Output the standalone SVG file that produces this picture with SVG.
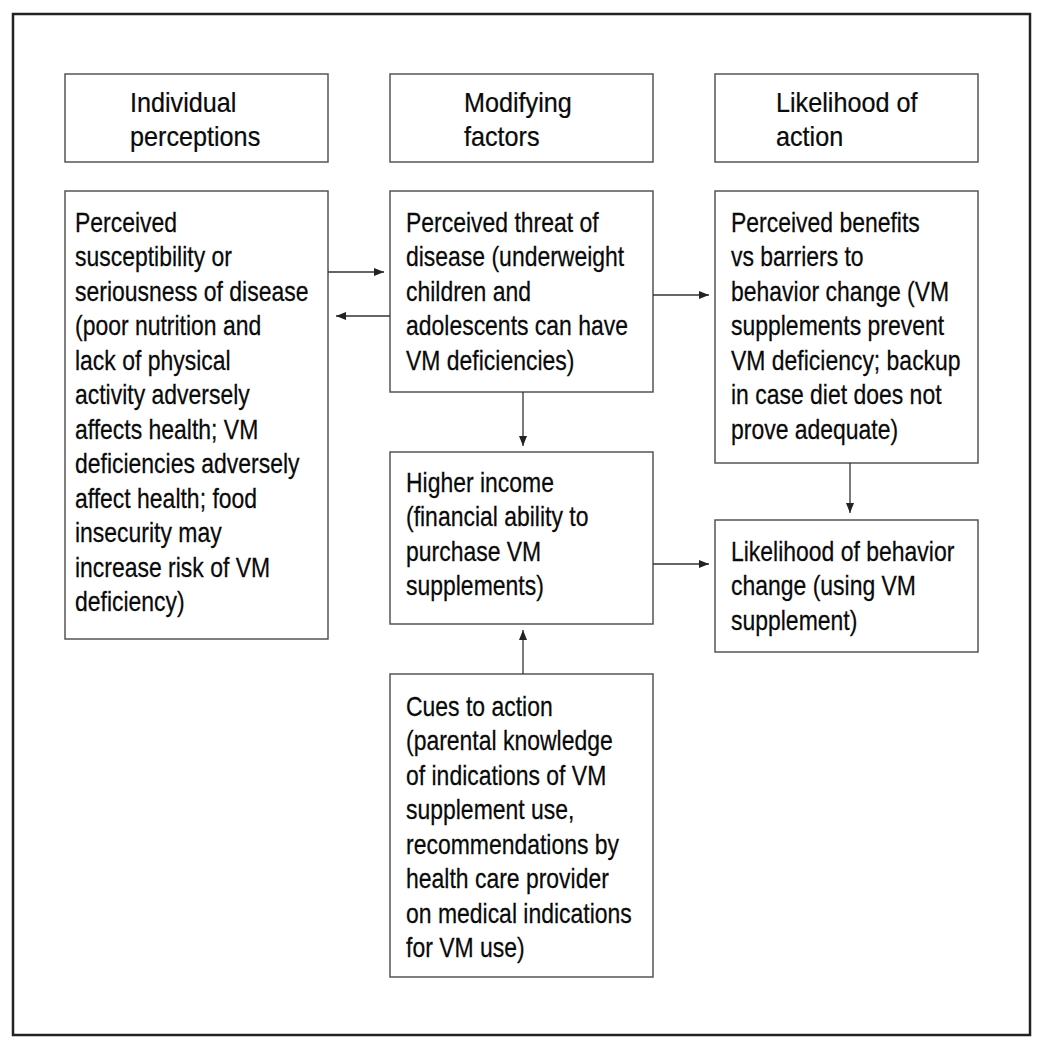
<svg xmlns="http://www.w3.org/2000/svg" width="1044" height="1050" viewBox="0 0 1044 1050">
<style>
.box{fill:#fff;stroke:#555;stroke-width:1.5}
.frame{fill:#fff;stroke:#222;stroke-width:2.5}
.t{font-family:"Liberation Sans",Arial,sans-serif;font-size:28px;fill:#0a0a0a;stroke:#0a0a0a;stroke-width:0.25}
.c{stroke:#333;stroke-width:1.3;fill:none;marker-end:url(#ah)}
</style>
<defs>
<marker id="ah" markerUnits="userSpaceOnUse" markerWidth="11" markerHeight="9" refX="10" refY="4" orient="auto">
<path d="M0,0 L10,4 L0,8 z" fill="#222"/>
</marker>
</defs>
<rect class="frame" x="13" y="14" width="1017" height="1021"/>

<g id="h1"><rect class="box" x="65" y="74" width="263" height="88"/>
<text class="t" transform="translate(130,0) scale(0.9,1)"><tspan x="0" y="112">Individual</tspan><tspan x="0" y="146">perceptions</tspan></text></g>
<g id="h2"><rect class="box" x="390" y="74" width="263" height="88"/>
<text class="t" transform="translate(464,0) scale(0.9,1)"><tspan x="0" y="112">Modifying</tspan><tspan x="0" y="146">factors</tspan></text></g>
<g id="h3"><rect class="box" x="715" y="74" width="263" height="88"/>
<text class="t" transform="translate(776,0) scale(0.9,1)"><tspan x="0" y="112">Likelihood of</tspan><tspan x="0" y="146">action</tspan></text></g>

<g id="susceptibility"><rect class="box" x="65" y="191" width="263" height="448"/>
<text class="t" transform="translate(75,0) scale(0.82,1)">
<tspan x="0" y="232">Perceived</tspan>
<tspan x="0" y="266.5">susceptibility or</tspan>
<tspan x="0" y="301">seriousness of disease</tspan>
<tspan x="0" y="335.5">(poor nutrition and</tspan>
<tspan x="0" y="370">lack of physical</tspan>
<tspan x="0" y="404.5">activity adversely</tspan>
<tspan x="0" y="439">affects health; VM</tspan>
<tspan x="0" y="473.5">deficiencies adversely</tspan>
<tspan x="0" y="508">affect health; food</tspan>
<tspan x="0" y="542.5">insecurity may</tspan>
<tspan x="0" y="577">increase risk of VM</tspan>
<tspan x="0" y="611.5">deficiency)</tspan>
</text></g>

<g id="threat"><rect class="box" x="390" y="191" width="263" height="201"/>
<text class="t" transform="translate(406,0) scale(0.82,1)">
<tspan x="0" y="232">Perceived threat of</tspan>
<tspan x="0" y="266.5">disease (underweight</tspan>
<tspan x="0" y="301">children and</tspan>
<tspan x="0" y="335.5">adolescents can have</tspan>
<tspan x="0" y="370">VM deficiencies)</tspan>
</text></g>

<g id="benefits"><rect class="box" x="715" y="191" width="263" height="272"/>
<text class="t" transform="translate(731,0) scale(0.82,1)">
<tspan x="0" y="232">Perceived benefits</tspan>
<tspan x="0" y="266.5">vs barriers to</tspan>
<tspan x="0" y="301">behavior change (VM</tspan>
<tspan x="0" y="335.5">supplements prevent</tspan>
<tspan x="0" y="370">VM deficiency; backup</tspan>
<tspan x="0" y="404.5">in case diet does not</tspan>
<tspan x="0" y="439">prove adequate)</tspan>
</text></g>

<g id="income"><rect class="box" x="390" y="452" width="263" height="172"/>
<text class="t" transform="translate(406,0) scale(0.82,1)">
<tspan x="0" y="492">Higher income</tspan>
<tspan x="0" y="526.5">(financial ability to</tspan>
<tspan x="0" y="561">purchase VM</tspan>
<tspan x="0" y="595.5">supplements)</tspan>
</text></g>

<g id="likelihood"><rect class="box" x="715" y="520" width="263" height="132"/>
<text class="t" transform="translate(731,0) scale(0.82,1)">
<tspan x="0" y="561">Likelihood of behavior</tspan>
<tspan x="0" y="595.5">change (using VM</tspan>
<tspan x="0" y="630">supplement)</tspan>
</text></g>

<g id="cues"><rect class="box" x="390" y="674" width="263" height="303"/>
<text class="t" transform="translate(406,0) scale(0.82,1)">
<tspan x="0" y="716">Cues to action</tspan>
<tspan x="0" y="750.5">(parental knowledge</tspan>
<tspan x="0" y="785">of indications of VM</tspan>
<tspan x="0" y="819.5">supplement use,</tspan>
<tspan x="0" y="854">recommendations by</tspan>
<tspan x="0" y="888.5">health care provider</tspan>
<tspan x="0" y="923">on medical indications</tspan>
<tspan x="0" y="957.5">for VM use)</tspan>
</text></g>

<g id="connectors">
<line class="c" x1="328" y1="272" x2="384" y2="272"/>
<line class="c" x1="390" y1="316" x2="336" y2="316"/>
<line class="c" x1="653" y1="295" x2="709" y2="295"/>
<line class="c" x1="523" y1="392" x2="523" y2="446"/>
<line class="c" x1="850" y1="463" x2="850" y2="513"/>
<line class="c" x1="653" y1="564" x2="709" y2="564"/>
<line class="c" x1="523" y1="674" x2="523" y2="630"/>
</g>
</svg>
